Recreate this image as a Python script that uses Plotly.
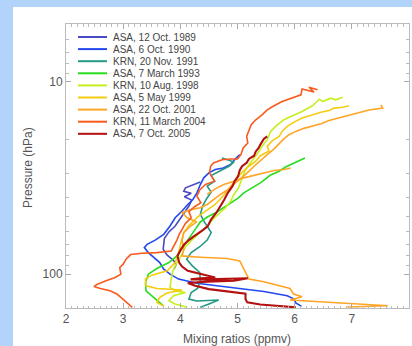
import plotly.graph_objects as go

labels = ["ASA, 12 Oct. 1989", "ASA, 6 Oct. 1990", "KRN, 20 Nov. 1991", "ASA, 7 March 1993",
          "KRN, 10 Aug. 1998", "ASA, 5 May 1999", "ASA, 22 Oct. 2001", "KRN, 11 March 2004",
          "ASA, 7 Oct. 2005"]
colors = ["#4a4ac4", "#2448f0", "#249a84", "#28dc20", "#c4f020", "#f4cc10", "#ffa526", "#fa5a1e", "#b41010"]

v_1989 = [4.35, 4.20, 4.09, 4.06, 4.19, 4.07, 4.20, 4.15, 4.07, 4.00, 3.91, 3.80, 3.72, 3.70, 3.77, 3.87, 3.93, 3.89]
p_1989 = [33.2, 34.5, 35.56, 37.01, 38.0, 39.6, 41.2, 44.25, 47.91, 51.88, 56.18, 60.3, 65.3, 74.24, 79.7, 84.3, 88.75, 94.21]

v_1990 = [5.04, 4.96, 4.88, 4.75, 4.61, 4.50, 4.41, 4.35, 4.29, 4.22, 4.13, 4.03, 3.91, 3.82, 3.71, 3.56, 3.42, 3.37,
          3.44, 3.54, 3.64, 3.71, 3.82, 3.97, 4.29, 4.64, 5.05, 5.46, 5.87, 5.99, 6.02, 6.12]
p_1990 = [23.89, 25.16, 26.92, 28.02, 28.58, 29.73, 31.56, 34.18, 37.75, 40.88, 43.39, 46.97, 50.87, 56.18, 62.06, 66.5, 69.94, 72.77,
          77.23, 81.97, 87.01, 94.21, 100, 106.1, 111.4, 114.9, 118.8, 123.0, 129.5, 134.8, 141.0, 147.1]

v_1991 = [4.73, 4.94, 4.85, 4.67, 4.54, 4.60, 4.47, 4.54, 4.46, 4.39, 4.35, 4.42, 4.54, 4.47, 4.34, 4.19, 4.11, 4.21,
          4.34, 4.35, 4.30, 4.19, 4.15, 4.29, 4.67, 4.50, 4.35]
p_1991 = [24.86, 26.1, 27.46, 29.15, 30.7, 32.85, 34.85, 37.4, 40.5, 44.25, 48.88, 53.5, 60.82, 66.5, 72.0, 77.23, 83.62, 90.53,
          98.04, 108.3, 118.8, 124.5, 134.8, 137.9, 136.3, 143.0, 148.8]

v_1993 = [6.18, 6.08, 5.96, 5.84, 5.73, 5.57, 5.42, 5.24, 5.11, 5.01, 4.89, 4.75, 4.62, 4.48, 4.35, 4.26, 4.16, 4.06,
          3.94, 3.80, 3.59, 3.44, 3.39, 3.40, 3.50, 3.59, 3.70]
p_1993 = [24.86, 25.6, 26.6, 27.7, 29.15, 30.6, 33.2, 35.56, 37.75, 40.2, 42.54, 45.15, 47.91, 50.3, 53.5, 58.47, 64.57, 71.8,
          80.36, 87.01, 93.4, 100, 110.5, 122.0, 129.5, 137.4, 145.9]

v_1998 = [6.84, 6.72, 6.63, 6.49, 6.43, 6.31, 6.13, 5.96, 5.81, 5.68, 5.58, 5.52, 5.43, 5.35, 5.27, 5.18, 5.11, 5.06,
          5.02, 4.94, 4.88, 4.79, 4.70, 4.58, 4.47, 4.34, 4.20, 4.09, 4.03, 3.94, 3.87, 3.84, 3.82, 3.93, 4.09, 3.88,
          3.80, 3.91, 4.12]
p_1998 = [12.01, 12.40, 12.15, 12.65, 12.3, 13.32, 14.25, 15.0, 15.74, 16.9, 18.09, 19.98, 21.63, 23.6, 25.36, 27.46, 29.9, 32.85,
          35.56, 38.51, 41.69, 45.15, 47.91, 51.5, 56.18, 60.82, 66.5, 72.0, 78.79, 87.01, 96.1, 106.1, 117.3, 122.5, 124.5, 129.5,
          137.4, 143.0, 148.8]

v_1999 = [6.95, 6.84, 6.69, 6.60, 6.46, 6.31, 6.13, 5.99, 5.87, 5.78, 5.73, 5.61, 5.52, 5.55, 5.40, 5.32, 5.20, 5.08,
          4.98, 4.88, 4.76, 4.61, 4.44, 4.29, 4.16, 4.06, 4.01, 3.97, 3.91, 3.77, 3.50, 3.39, 3.40, 3.59, 4.03, 3.77,
          3.64, 3.59, 3.72]
p_1999 = [13.32, 13.55, 13.69, 14.1, 14.4, 14.83, 15.43, 16.2, 17.03, 18.09, 19.2, 20.2, 21.63, 22.9, 24.2, 25.86, 27.46, 29.5,
          31.9, 34.85, 38.9, 43.39, 46.97, 50.87, 55.6, 60.82, 68.56, 77.23, 87.01, 96.1, 101.2, 106.1, 114.9, 118.8, 120.8, 125.4,
          132.1, 140.2, 147.1]

v_2001 = [7.51, 7.54, 7.30, 7.10, 6.92, 6.75, 6.60, 6.46, 6.31, 6.16, 6.02, 5.90, 5.81, 5.74, 5.64, 5.52, 5.40, 5.29,
          5.17, 5.05, 4.94, 4.82, 4.70, 4.58, 4.47, 4.35, 4.20, 4.03, 4.12, 4.29, 4.18, 4.06, 4.03, 4.06, 4.03, 4.35,
          4.82, 5.04, 5.10, 5.16, 5.20, 5.46, 5.70, 5.92, 5.98, 6.13, 5.92, 6.69, 7.04, 7.63, 6.92,
          None, 5.93, 5.81, 5.64, 5.46, 5.29, 5.11, 4.94, 4.76, 4.61, 4.47]
p_2001 = [13.16, 13.69, 14.0, 14.5, 14.95, 15.5, 15.9, 16.5, 16.9, 17.45, 18.09, 18.82, 19.8, 20.78, 22.3, 23.89, 25.6, 27.46,
          29.73, 31.9, 34.3, 36.6, 38.51, 40.88, 43.39, 45.15, 46.05, 47.91, 50.87, 53.5, 56.18, 60.82, 67.2, 74.24, 80.36, 81.6,
          82.9, 85.29, 92.37, 100, 106.1, 109.4, 114.0, 118.8, 126.9, 131.0, 136.3, 140.2, 142.1, 145.9, 148.2,
          None, 28.02, 28.58, 28.9, 29.73, 30.7, 31.56, 32.85, 34.18, 36.0, 38.51]

v_2004 = [6.40, 6.25, 6.34, 6.13, 6.11, 5.93, 5.78, 5.64, 5.52, 5.43, 5.32, 5.24, 5.20, 5.16, 5.18, 5.10, 5.06, 5.00,
          4.88, 4.73, 4.58, 4.53, 4.51, 4.60, 4.44, 4.34, 4.29, 4.36, 4.25, 4.15, 4.19, 4.09, 4.03, 3.98, 3.94, 3.88,
          3.84, 3.59, 3.33, 3.13, 3.05, 3.00, 2.94, 2.96, 2.86, 2.70, 2.55, 2.49, 2.60, 2.77, 2.89, 2.96, 3.06, 3.16]
p_2004 = [11.0, 10.66, 11.3, 10.9, 11.68, 12.15, 12.65, 13.32, 13.97, 14.83, 15.74, 16.71, 18.09, 19.2, 20.78, 22.07, 23.89, 25.16,
          25.16, 25.4, 26.38, 27.46, 29.73, 32.85, 34.18, 36.5, 39.28, 42.54, 44.6, 47.3, 50.87, 54.4, 58.47, 62.06, 66.5, 71.33,
          75.72, 77.23, 77.86, 79.1, 83.62, 88.75, 92.37, 100, 104.1, 108.3, 112.7, 115.9, 118.8, 122.0, 126.9, 132.1, 140.2, 148.8]

v_2005 = [5.52, 5.46, 5.40, 5.37, 5.32, 5.29, 5.20, 5.16, 5.08, 5.04, 5.01, 4.95, 4.91, 4.83, 4.77, 4.71, 4.63, 4.54,
          4.48, 4.40, 4.32, 4.23, 4.15, 4.07, 4.01, 3.95, 3.98, 4.03, 4.13, 4.35, 4.61, 4.35, 4.18, 4.64, 5.18, 4.94,
          4.47, 4.13, 4.26, 4.50, 4.88, 5.14, 5.14, 5.17, 5.40, 5.70, 6.02]
p_2005 = [19.2, 19.8, 21.2, 22.07, 23.0, 24.2, 25.16, 26.38, 27.46, 28.8, 30.94, 32.85, 35.0, 37.75, 40.88, 43.9, 47.91, 51.88,
          56.18, 58.8, 61.4, 63.8, 66.5, 69.94, 74.24, 80.36, 87.01, 91.3, 96.1, 100, 104.1, 105.1, 106.4, 106.1, 105.1, 108.3,
          109.4, 111.2, 114.9, 119.6, 123.0, 126.4, 134.8, 140.2, 143.7, 145.9, 148.8]

series_v = [v_1989, v_1990, v_1991, v_1993, v_1998, v_1999, v_2001, v_2004, v_2005]
series_p = [p_1989, p_1990, p_1991, p_1993, p_1998, p_1999, p_2001, p_2004, p_2005]

x_ticks = [2, 3, 4, 5, 6, 7, 8]
y_ticks = [10, 100]
y_minor = [5, 6, 7, 8, 9, 20, 30, 40, 50, 60, 70, 80, 90]

W, H = 412, 346
L, R, T, B = 66, 3, 24, 38
pw, ph = W - L - R, H - T - B
BLUE = "#b2d4fa"


def px(x):
    return (x - L) / pw


def py(y):
    return (H - B - y) / ph


fig = go.Figure()
for lab, col, vv, pp in zip(labels, colors, series_v, series_p):
    fig.add_trace(go.Scatter(x=vv, y=pp, mode="lines", name=lab,
                             line=dict(color=col, width=2.1 if lab.endswith("2005") else 1.6),
                             showlegend=False, hoverinfo="skip"))

shapes = [dict(type="rect", xref="paper", yref="paper", x0=px(13), x1=px(W + 5), y0=py(H + 5), y1=py(7),
               fillcolor="white", line=dict(width=0), layer="below")]
annotations = []
for i, (lab, col) in enumerate(zip(labels, colors)):
    yy = 37 + 12.1 * i
    shapes.append(dict(type="line", xref="paper", yref="paper", x0=px(78), x1=px(107), y0=py(yy), y1=py(yy),
                       line=dict(color=col, width=2)))
    annotations.append(dict(text=lab, xref="paper", yref="paper", x=px(111), y=py(yy), xanchor="left",
                            yanchor="middle", showarrow=False, font=dict(size=10, color="#444")))

annotations.append(dict(text="Mixing ratios (ppmv)", xref="paper", yref="paper", x=px(237), y=py(339),
                        xanchor="center", yanchor="middle", showarrow=False, font=dict(size=12, color="#555")))
annotations.append(dict(text="Pressure (hPa)", xref="paper", yref="paper", x=px(28), y=py(168), textangle=-90,
                        xanchor="center", yanchor="middle", showarrow=False, font=dict(size=12, color="#555")))

fig.update_layout(
    width=W, height=H, margin=dict(l=L, r=R, t=T, b=B, pad=0),
    paper_bgcolor=BLUE, plot_bgcolor="white",
    font=dict(family="Liberation Sans, Arial, sans-serif", size=12, color="#555"),
    shapes=shapes, annotations=annotations,
    xaxis=dict(range=[2, 8], tickvals=x_ticks, ticks="inside", ticklen=5, tickcolor="#aaa",
               showline=True, linecolor="#bbb", linewidth=1, mirror="ticks", showgrid=False, zeroline=False,
               minor=dict(dtick=0.1, ticks="inside", ticklen=2.5, tickcolor="#bbb"),
               tickfont=dict(size=12, color="#555")),
    yaxis=dict(type="log", range=[2.176, 0.699], tickvals=y_ticks, ticks="inside", ticklen=5, tickcolor="#aaa",
               showline=True, linecolor="#bbb", linewidth=1, mirror="ticks", showgrid=False, zeroline=False,
               minor=dict(tickmode="array", tickvals=y_minor, ticks="inside", ticklen=3, tickcolor="#bbb"),
               tickfont=dict(size=12, color="#555")),
)

fig.write_html("out.html", config={"displayModeBar": False, "staticPlot": True},
               post_script="document.body.style.margin='0';document.body.style.overflow='hidden';"
                           "document.body.style.background='" + BLUE + "';")
